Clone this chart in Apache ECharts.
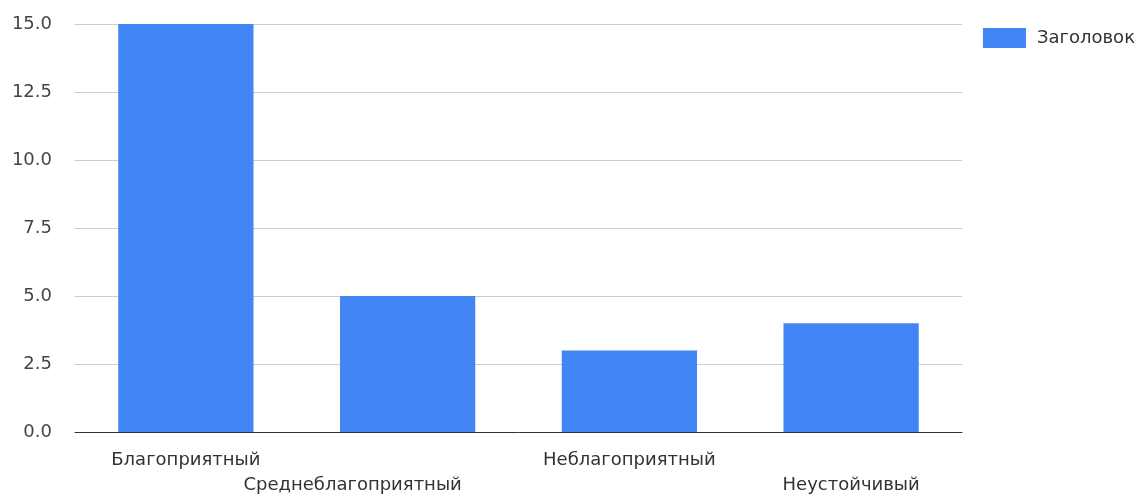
<!DOCTYPE html>
<html>
<head>
<meta charset="utf-8">
<script src="https://cdn.jsdelivr.net/npm/echarts@6/dist/echarts.min.js"></script>
<style>
  html, body { margin: 0; padding: 0; background: #fff; }
  #main { width: 1142px; height: 496px; }
</style>
</head>
<body>
<div id="main"></div>
<script>
var categories = ['Благоприятный', 'Среднеблагоприятный', 'Неблагоприятный', 'Неустойчивый'];
var values = [15, 5, 3, 4];
var seriesName = 'Заголовок';

var myChart = echarts.init(document.getElementById('main'));

// вторая подпись сдвинута влево, как в оригинале
var catData = categories.map(function (c, i) {
    if (i === 1) {
        return { value: c, textStyle: { padding: [0, 110, 0, 0] } };
    }
    return c;
});

var option = {
    animation: false,
    textStyle: { fontFamily: 'DejaVu Sans, sans-serif' },
    legend: {
        data: [seriesName],
        icon: 'rect',
        right: 2,
        top: 23,
        itemWidth: 43,
        itemHeight: 20,
        itemGap: 10,
        textStyle: { fontSize: 18, color: '#333', padding: [0, 0, 0, 6] }
    },
    grid: { left: 75, right: 180, top: 24, bottom: 64, containLabel: false, outerBoundsMode: 'none' },
    xAxis: {
        type: 'category',
        data: catData,
        axisTick: { show: false },
        axisLine: { lineStyle: { color: '#333', width: 1 } },
        axisLabel: {
            interval: 0,
            fontSize: 18,
            color: '#333',
            margin: 16,
            lineHeight: 25,
            formatter: function (v, i) {
                return i % 2 === 1 ? '\n' + v : v;
            }
        }
    },
    yAxis: {
        type: 'value',
        min: 0,
        max: 15,
        interval: 2.5,
        axisLabel: {
            fontSize: 18,
            color: '#444',
            margin: 23,
            formatter: function (v) { return v.toFixed(1); }
        },
        splitLine: { lineStyle: { color: '#ccc' } }
    },
    series: [{
        name: seriesName,
        type: 'bar',
        data: values,
        barWidth: '61%',
        itemStyle: { color: '#4285f4' }
    }]
};

myChart.setOption(option);
</script>
</body>
</html>
